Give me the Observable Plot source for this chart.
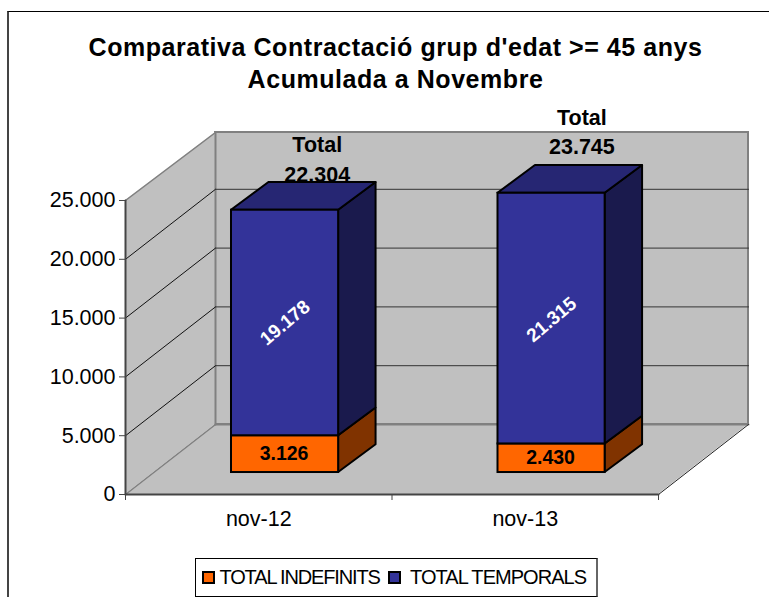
<!DOCTYPE html>
<html>
<head>
<meta charset="utf-8">
<script src="https://cdn.jsdelivr.net/npm/d3@7"></script>
<script src="https://cdn.jsdelivr.net/npm/@observablehq/plot@0.6"></script>
<style>
  html, body { margin: 0; padding: 0; background: #fff; overflow: hidden; }
  body { width: 769px; height: 597px; position: relative; font-family: "Liberation Sans", Arial, sans-serif; }
  #frame { position: absolute; left: 7px; top: 11px; width: 770px; height: 600px; border-left: 2px solid #444; border-top: 1px solid #000; }
  #title { position: absolute; left: 0; top: 31px; width: 791px; text-align: center; font-weight: bold; font-size: 25px; line-height: 32px; color: #000; letter-spacing: 0.55px; }
  #chart { position: absolute; left: 0; top: 95px; }
  #chart svg { display: block; background: transparent; }
  #legend { position: absolute; left: 195px; top: 558px; width: 400px; height: 37px; box-sizing: content-box; border: 1px solid #000; border-right: 2px solid #666; background: #fff; font-size: 20px; letter-spacing: -1px; color: #000; }
  #legend .sw { position: absolute; top: 12px; width: 9px; height: 9px; border: 2px solid #000; }
  #legend .lb { position: absolute; top: 7px; white-space: nowrap; }
</style>
</head>
<body>
<div id="frame"></div>
<div id="title">Comparativa Contractació grup d'edat &gt;= 45 anys<br>Acumulada a Novembre</div>
<div id="chart"></div>
<div id="legend"></div>
<script>
const categories = ["nov-12", "nov-13"];
const indefinits = [3126, 2430];
const temporals = [19178, 21315];
const totals = [22304, 23745];
const seriesNames = ["TOTAL INDEFINITS", "TOTAL TEMPORALS"];
const yTicks = [0, 5000, 10000, 15000, 20000, 25000];

// Oblique projection of the 3D box, in data units
const depthX = 0.3377, depthY = 5952, wallTop = 24830;
const X = (c, z) => c + z * depthX;
const Y = (v, z) => v + z * depthY;
const barInset = 0.2917, barWidth = 0.402, zFront = 0.314, zBack = 0.71, zBackX = 0.73;
const fmt = v => d3.format(",")(v).replace(/,/g, ".");

const colors = {
  orange: "#FF6600", orangeSide: "#803300",
  blue: "#333399", blueTop: "#262673", blueSide: "#1A1A4D",
  wall: "#C0C0C0", edge: "#808080", axis: "#444"
};

const xMax = categories.length;
const quadY = (x0, x1, a0, b0, a1, b1, fill, extra = {}) =>
  Plot.areaY([{x: x0, a: a0, b: b0}, {x: x1, a: a1, b: b1}],
    {x: "x", y1: "a", y2: "b", fill, stroke: "#000", strokeWidth: 2, strokeLinejoin: "round", curve: "linear", ...extra});
const quadX = (y0, y1, a0, b0, a1, b1, fill, extra = {}) =>
  Plot.areaX([{y: y0, a: a0, b: b0}, {y: y1, a: a1, b: b1}],
    {y: "y", x1: "a", x2: "b", fill, stroke: "#000", strokeWidth: 2, strokeLinejoin: "round", curve: "linear", ...extra});
const seg = (x0, y0, x1, y1, stroke, strokeWidth) =>
  Plot.line([[x0, y0], [x1, y1]], {x: d => d[0], y: d => d[1], stroke, strokeWidth});

const marks = [];
// Back wall, left wall, floor
marks.push(Plot.rect([0], {x1: X(0, 1), x2: X(xMax, 1), y1: Y(0, 1), y2: Y(wallTop, 1), fill: colors.wall, stroke: colors.edge, strokeWidth: 2}));
marks.push(Plot.areaY([{x: X(0, 0), a: 0, b: 25000}, {x: X(0, 1), a: Y(0, 1), b: Y(wallTop, 1)}],
  {x: "x", y1: "a", y2: "b", fill: colors.wall}));
marks.push(seg(X(0, 0), 25000, X(0, 1), Y(wallTop, 1), colors.edge, 1.5));
marks.push(quadX(0, Y(0, 1), X(0, 0), X(xMax, 0), X(0, 1), X(xMax, 1), colors.wall, {stroke: "none"}));
marks.push(seg(X(0, 1), Y(0, 1), X(xMax, 1), Y(0, 1), colors.edge, 2));
marks.push(seg(X(0, 1), Y(0, 1), X(0, 1), Y(wallTop, 1), colors.edge, 2));
marks.push(seg(X(0, 0), 0, X(0, 1), Y(0, 1), colors.edge, 1.5));
marks.push(seg(X(xMax, 0), 0, X(xMax, 1), Y(0, 1), "#222", 1));
// Gridlines on left and back walls
for (const v of yTicks.slice(1, -1)) {
  marks.push(seg(X(0, 0), v, X(0, 1), Y(v, 1), "#111", 1));
  marks.push(seg(X(0, 1), Y(v, 1), X(xMax, 1), Y(v, 1), "#333", 1));
}
// Total labels sit on the back wall
const totalLift = [-1, 10];
const totalShift = [-0.013, -0.02];
categories.forEach((c, i) => {
  marks.push(Plot.text([totals[i]], {
    x: X(i + barInset + barWidth / 2, zBack) + totalShift[i],
    y: Y(totals[i], zBack),
    text: d => "Total\n" + fmt(d),
    fontWeight: "bold", fontSize: 21.5, lineHeight: 1.35, lineAnchor: "bottom",
    dy: -totalLift[i] - 2, fill: "#000"
  }));
});
// Bars
categories.forEach((c, i) => {
  const l = i + barInset, r = l + barWidth;
  const a = indefinits[i], t = totals[i];
  // side faces
  marks.push(quadY(X(r, zFront), X(r, zBackX), Y(0, zFront), Y(a, zFront), Y(0, zBack), Y(a, zBack), colors.orangeSide));
  marks.push(quadY(X(r, zFront), X(r, zBackX), Y(a, zFront), Y(t, zFront), Y(a, zBack), Y(t, zBack), colors.blueSide));
  // top face
  marks.push(quadX(Y(t, zFront), Y(t, zBack), X(l, zFront), X(r, zFront), X(l, zBackX), X(r, zBackX), colors.blueTop));
  // front faces
  marks.push(Plot.rect([0], {x1: X(l, zFront), x2: X(r, zFront), y1: Y(0, zFront), y2: Y(a, zFront), fill: colors.orange, stroke: "#000", strokeWidth: 2}));
  marks.push(Plot.rect([0], {x1: X(l, zFront), x2: X(r, zFront), y1: Y(a, zFront), y2: Y(t, zFront), fill: colors.blue, stroke: "#000", strokeWidth: 2}));
  // value labels
  marks.push(Plot.text([indefinits[i]], {
    x: X(l + barWidth / 2, zFront), y: Y(a / 2, zFront), text: d => fmt(d),
    fontWeight: "bold", fontSize: 19.5, fill: "#000", dx: -1
  }));
  marks.push(Plot.text([temporals[i]], {
    x: X(l + barWidth / 2, zFront), y: Y(a + temporals[i] / 2, zFront), text: d => fmt(d),
    fontWeight: "bold", fontSize: 19, fill: "#fff", rotate: -40, dy: i
  }));
});
// Axes
marks.push(seg(X(0, 0), 0, X(0, 0), 25000, colors.axis, 2));
marks.push(seg(X(0, 0), 0, X(xMax, 0), 0, colors.axis, 2));
marks.push(Plot.axisY({ticks: yTicks, tickFormat: fmt, tickSize: 6, tickPadding: 4, fontSize: 21.5, label: null, anchor: "left", stroke: colors.axis, color: "#000"}));
marks.push(Plot.axisX({ticks: d3.range(xMax + 1), tickFormat: () => "", tickSize: 6, label: null, anchor: "bottom", stroke: colors.axis}));
marks.push(Plot.axisX({ticks: categories.map((_, i) => i + 0.5), tickFormat: d => categories[d - 0.5], tickSize: 0, tickPadding: 16, fontSize: 21.5, label: null, anchor: "bottom", textStroke: "none"}));

const plot = Plot.plot({
  width: 769, height: 463,
  marginLeft: 125, marginRight: 21, marginTop: 35, marginBottom: 64,
  x: {type: "linear", domain: [0, xMax + depthX], axis: null},
  y: {type: "linear", domain: [0, 25000 + depthY], axis: null},
  style: {fontFamily: '"Liberation Sans", Arial, sans-serif', background: "transparent", overflow: "visible", color: "#000"},
  marks
});
document.getElementById("chart").appendChild(plot);

// Legend
const legend = document.getElementById("legend");
const swatchColors = [colors.orange, colors.blue];
const swLeft = [6, 192], lbLeft = [23.5, 214];
const lbSpacing = ["-1.15px", "-0.95px"];
seriesNames.forEach((n, i) => {
  const s = document.createElement("div"); s.className = "sw"; s.style.left = swLeft[i] + "px"; s.style.background = swatchColors[i];
  const t = document.createElement("div"); t.className = "lb"; t.style.left = lbLeft[i] + "px"; t.style.letterSpacing = lbSpacing[i]; t.textContent = n;
  legend.append(s, t);
});
</script>
</body>
</html>
